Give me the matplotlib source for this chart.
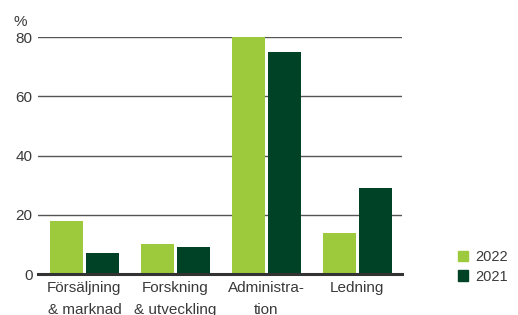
import numpy as np
import matplotlib
matplotlib.use("Agg")
import matplotlib.pyplot as plt
from matplotlib.patches import Patch

categories = ["Försäljning\n& marknad", "Forskning\n& utveckling", "Administra-\ntion", "Ledning"]
years = ["2022", "2021"]
values_2022 = [18, 10, 80, 14]
values_2021 = [7, 9, 75, 29]
yticks = [0, 20, 40, 60, 80]

light = "#9dca3c"
dark = "#004225"
txt = "#3a3a3a"

plt.rcParams['font.family'] = ['Liberation Sans', 'DejaVu Sans']

fig = plt.figure(figsize=(5.18, 3.15), dpi=100)
ax = fig.add_axes([0.0734, 0.130, 0.7027, 0.7525])

x = np.arange(len(categories))
w = 0.363
off = 0.198
ax.bar(x - off, values_2022, w, color=light, zorder=3)
ax.bar(x + off, values_2021, w, color=dark, zorder=3)

ax.set_xlim(-0.51, 3.49)
ax.set_ylim(0, 80)
ax.set_yticks(yticks)
ax.yaxis.grid(True, color="#555555", linewidth=1.0, zorder=0)
ax.tick_params(axis="y", length=0, pad=4, labelsize=11, labelcolor=txt)
ax.tick_params(axis="x", length=0, pad=5, labelsize=11, labelcolor=txt)
ax.set_xticks(x)
ax.set_xticklabels(categories, linespacing=1.75, va="top")
for s in ["top", "right", "left"]:
    ax.spines[s].set_visible(False)
ax.spines["bottom"].set_color("#333333")
ax.spines["bottom"].set_linewidth(2.2)
ax.spines["bottom"].set_zorder(4)

fig.text(14 / 518, 1 - 22 / 315, "%", fontsize=11, color=txt, va="center", ha="left")

handles = [Patch(color=light, label=years[0]), Patch(color=dark, label=years[1])]
fig.legend(handles=handles, loc="center left", bbox_to_anchor=(445 / 518, 1 - 267 / 315),
           frameon=False, fontsize=10.5, handlelength=0.7, handleheight=0.7,
           handletextpad=0.45, labelspacing=0.35, labelcolor=txt)

fig.savefig("out.png", dpi=100)
